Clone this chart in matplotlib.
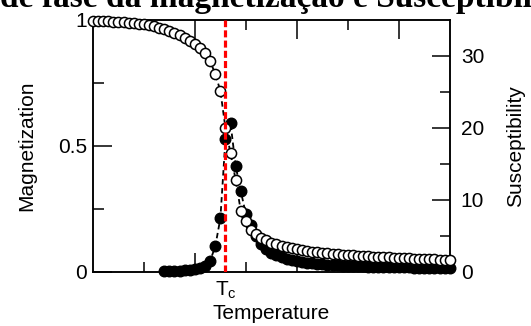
import numpy as np
import matplotlib
matplotlib.use("Agg")
from matplotlib import pyplot as plt
from matplotlib.ticker import FixedLocator

plt.rcParams['font.family'] = ['Liberation Sans', 'DejaVu Sans']

# temperature grid (step 0.05)
temp = [1.00, 1.05, 1.10, 1.15, 1.20, 1.25, 1.30, 1.35, 1.40, 1.45,
        1.50, 1.55, 1.60, 1.65, 1.70, 1.75, 1.80, 1.85, 1.90, 1.95,
        2.00, 2.05, 2.10, 2.15, 2.20, 2.25, 2.30, 2.35, 2.40, 2.45,
        2.50, 2.55, 2.60, 2.65, 2.70, 2.75, 2.80, 2.85, 2.90, 2.95,
        3.00, 3.05, 3.10, 3.15, 3.20, 3.25, 3.30, 3.35, 3.40, 3.45,
        3.50, 3.55, 3.60, 3.65, 3.70, 3.75, 3.80, 3.85, 3.90, 3.95,
        4.00, 4.05, 4.10, 4.15, 4.20, 4.25, 4.30, 4.35, 4.40, 4.45,
        4.50]

magnet = [0.997, 0.996, 0.995, 0.994, 0.993, 0.992, 0.990, 0.989, 0.987, 0.985,
          0.982, 0.978, 0.974, 0.969, 0.962, 0.956, 0.948, 0.940, 0.930, 0.918,
          0.905, 0.890, 0.870, 0.836, 0.785, 0.718, 0.570, 0.470, 0.364, 0.242,
          0.200, 0.165, 0.150, 0.135, 0.125, 0.115, 0.108, 0.102, 0.097, 0.092,
          0.088, 0.085, 0.082, 0.079, 0.077, 0.075, 0.073, 0.071, 0.069, 0.067,
          0.066, 0.064, 0.063, 0.061, 0.060, 0.059, 0.058, 0.057, 0.056, 0.055,
          0.054, 0.053, 0.052, 0.051, 0.050, 0.049, 0.049, 0.048, 0.047, 0.046,
          0.045]

# susceptibility only measured from T = 1.7
temp_chi = temp[14:]
suscep = [0.05, 0.06, 0.08, 0.10, 0.15, 0.20,
          0.30, 0.45, 0.80, 1.50, 3.50, 7.40, 18.4, 20.6, 14.7, 11.2,
          8.00, 6.50, 4.90, 3.80, 3.10, 2.60, 2.30, 2.00, 1.80, 1.60,
          1.50, 1.35, 1.25, 1.15, 1.10, 1.00, 0.95, 0.90, 0.85, 0.82,
          0.80, 0.77, 0.75, 0.72, 0.70, 0.68, 0.66, 0.64, 0.62, 0.61,
          0.60, 0.58, 0.57, 0.56, 0.55, 0.54, 0.53, 0.52, 0.51, 0.50,
          0.50]

t_crit = 2.30

fig = plt.figure(figsize=(5.31, 3.26), dpi=100)
ax = fig.add_axes([0.175, 0.167, 0.672, 0.772])
ax2 = ax.twinx()

ax.plot(temp, magnet, 'o--', color='black', mfc='white', mec='black',
        ms=7.3, mew=1.1, lw=1.3, dashes=(3, 2), clip_on=False, zorder=3)
ax2.plot(temp_chi, suscep, 'o--', color='black', mfc='black', mec='black',
         ms=7.6, lw=1.3, dashes=(3, 2), clip_on=False, zorder=3)
ax.axvline(t_crit, color='red', lw=2.3, dashes=(2.2, 1.0), zorder=5)

ax.set_xlim(1.0, 4.5)
ax.set_ylim(0, 1)
ax2.set_ylim(0, 35)

ax.xaxis.set_major_locator(FixedLocator([2, 3, 4]))
ax.xaxis.set_minor_locator(FixedLocator([1.5, 2.5, 3.5]))
ax.set_xticklabels([])
ax.set_yticks([0, 0.5, 1])
ax.set_yticklabels(['0', '0.5', '1'])
ax.yaxis.set_minor_locator(FixedLocator([0.25, 0.75]))
ax2.set_yticks([0, 10, 20, 30])
ax2.yaxis.set_minor_locator(FixedLocator([5, 15, 25]))

ax.tick_params(axis='x', which='both', direction='in', top=True, width=1.1)
ax.tick_params(axis='x', which='major', length=14)
ax.tick_params(axis='x', which='minor', length=7)
ax.tick_params(axis='y', which='both', direction='in', right=False, width=1.1,
               labelsize=15, pad=4)
ax.tick_params(axis='y', which='major', length=14)
ax.tick_params(axis='y', which='minor', length=8)
ax2.tick_params(axis='y', which='both', direction='in', width=1.1, labelsize=15, pad=8)
ax2.tick_params(axis='y', which='major', length=13)
ax2.tick_params(axis='y', which='minor', length=7)

for a in (ax, ax2):
    for s in a.spines.values():
        s.set_linewidth(1.1)

ax.set_zorder(ax2.get_zorder() + 1)
ax.patch.set_visible(False)

ax.set_ylabel('Magnetization', fontsize=15, labelpad=16)
ax2.set_ylabel('Susceptibility', fontsize=15, labelpad=16)
ax.set_xlabel('Temperature', fontsize=15, labelpad=20)
ax.text(t_crit, -0.03, r'T$_\mathregular{c}$', fontsize=15, ha='center', va='top',
        transform=ax.get_xaxis_transform())

# title is cropped by the top/side edges in the original
fig.text(0.0, 1.0 - 7 / 326, 'de fase da magnetização e Susceptibilidade',
         fontsize=24, fontweight='bold', family='Liberation Serif',
         ha='left', va='baseline')

fig.savefig('out.png', dpi=100)
